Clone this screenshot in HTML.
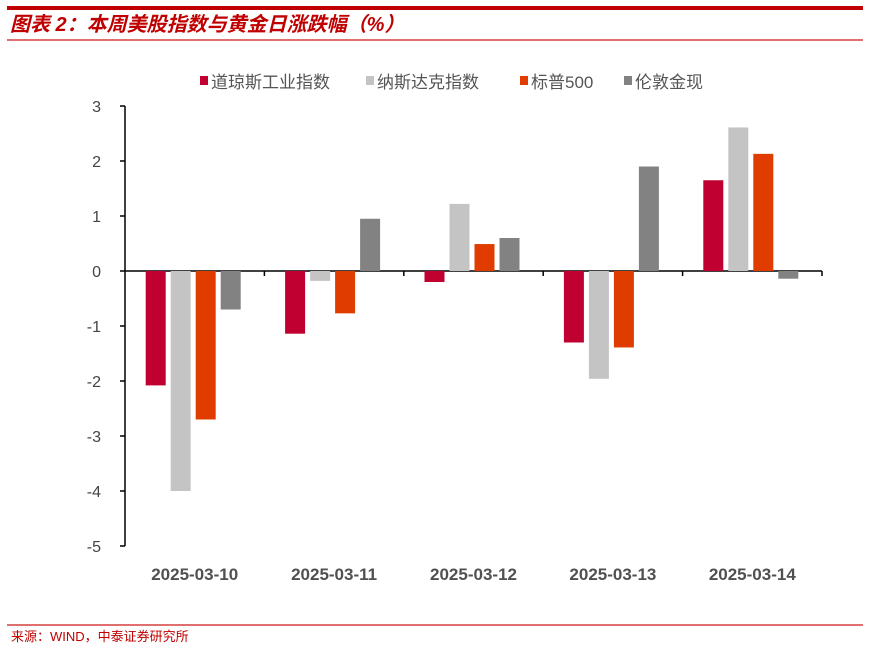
<!DOCTYPE html>
<html><head><meta charset="utf-8"><style>
body{margin:0;background:#fff;width:877px;height:657px;overflow:hidden;font-family:"Liberation Sans","Noto Sans CJK SC",sans-serif}
</style></head><body>
<svg width="877" height="657" xmlns="http://www.w3.org/2000/svg">
<rect x="7" y="6" width="856" height="4" fill="#C00000"/>
<text x="10" y="31" font-size="20" font-weight="bold" font-style="italic" fill="#C00000" font-family="'Liberation Sans','Noto Sans CJK SC',sans-serif">图表 2：本周美股指数与黄金日涨跌幅（%）</text>
<rect x="7" y="39" width="856" height="2" fill="#E07070"/>
<g id="legend"></g>
<g id="axes"></g>
<g id="bars"></g>
<rect x="7" y="624" width="856" height="2" fill="#E07070"/>
<text x="11" y="641" font-size="13" fill="#C00000">来源：WIND，中泰证券研究所</text>
</svg>
<script>
const categories=["2025-03-10","2025-03-11","2025-03-12","2025-03-13","2025-03-14"];
const seriesNames=["道琼斯工业指数","纳斯达克指数","标普500","伦敦金现"];
const dow=[-2.08,-1.14,-0.2,-1.3,1.65];
const nasdaq=[-4.0,-0.18,1.22,-1.96,2.61];
const sp500=[-2.7,-0.77,0.49,-1.39,2.13];
const gold=[-0.7,0.95,0.6,1.9,-0.14];
const yTicks=[3,2,1,0,-1,-2,-3,-4,-5];
const series=[dow,nasdaq,sp500,gold];
const colors=["#C00030","#C4C4C4","#E03C00","#828282"];
const NS="http://www.w3.org/2000/svg";
const X0=125,X1=822,Y3=106,UNIT=55;
const y=v=>Y3+(3-v)*UNIT;
const gw=(X1-X0)/categories.length;
const xc=i=>X0+gw*(i+0.5);
function mk(t,a,p){const e=document.createElementNS(NS,t);for(const k in a)e.setAttribute(k,a[k]);p.appendChild(e);return e;}
const axes=document.getElementById('axes'),bars=document.getElementById('bars'),leg=document.getElementById('legend');
const ya=mk('line',{x1:X0,x2:X0,y1:y(3),y2:y(-5),stroke:'#000','stroke-width':1.5},axes);


yTicks.forEach(t=>{
 const l=mk('line',{x1:X0-5,x2:X0,y1:y(t),y2:y(t),stroke:'#000','stroke-width':1.5},axes);
 
 
 const tx=mk('text',{x:X0-24,y:y(t)+6,'font-size':16,fill:'#444','text-anchor':'end'},axes);
 tx.textContent=t;
 
 
});
categories.forEach((c,i)=>{
 const tx=mk('text',{x:xc(i),y:580,'font-size':17,fill:'#505050','text-anchor':'middle','font-weight':'bold'},axes);
 tx.textContent=c;
 
 
 const tk=mk('line',{x1:X0+gw*(i+1),x2:X0+gw*(i+1),y1:y(0),y2:y(0)+5,stroke:'#000','stroke-width':1.5},axes);
 
 
 series.forEach((s,j)=>{
  const v=s[i];const bx=xc(i)-49+j*25;
  const r=mk('rect',{x:bx,y:Math.min(y(v),y(0)),width:20,height:Math.abs(y(v)-y(0)),fill:colors[j]},bars);
  
  
 });
});
const xa=mk('line',{x1:X0,x2:X1,y1:y(0),y2:y(0),stroke:'#000','stroke-width':1.5},axes);


const lx=[200,366,520,624];
seriesNames.forEach((n,j)=>{
 const r=mk('rect',{x:lx[j],y:76,width:8,height:9,fill:colors[j]},leg);
 
 
 const t=mk('text',{x:lx[j]+11,y:88,'font-size':17,fill:'#555'},leg);
 t.textContent=n;
 
 
});
</script>
</body></html>
